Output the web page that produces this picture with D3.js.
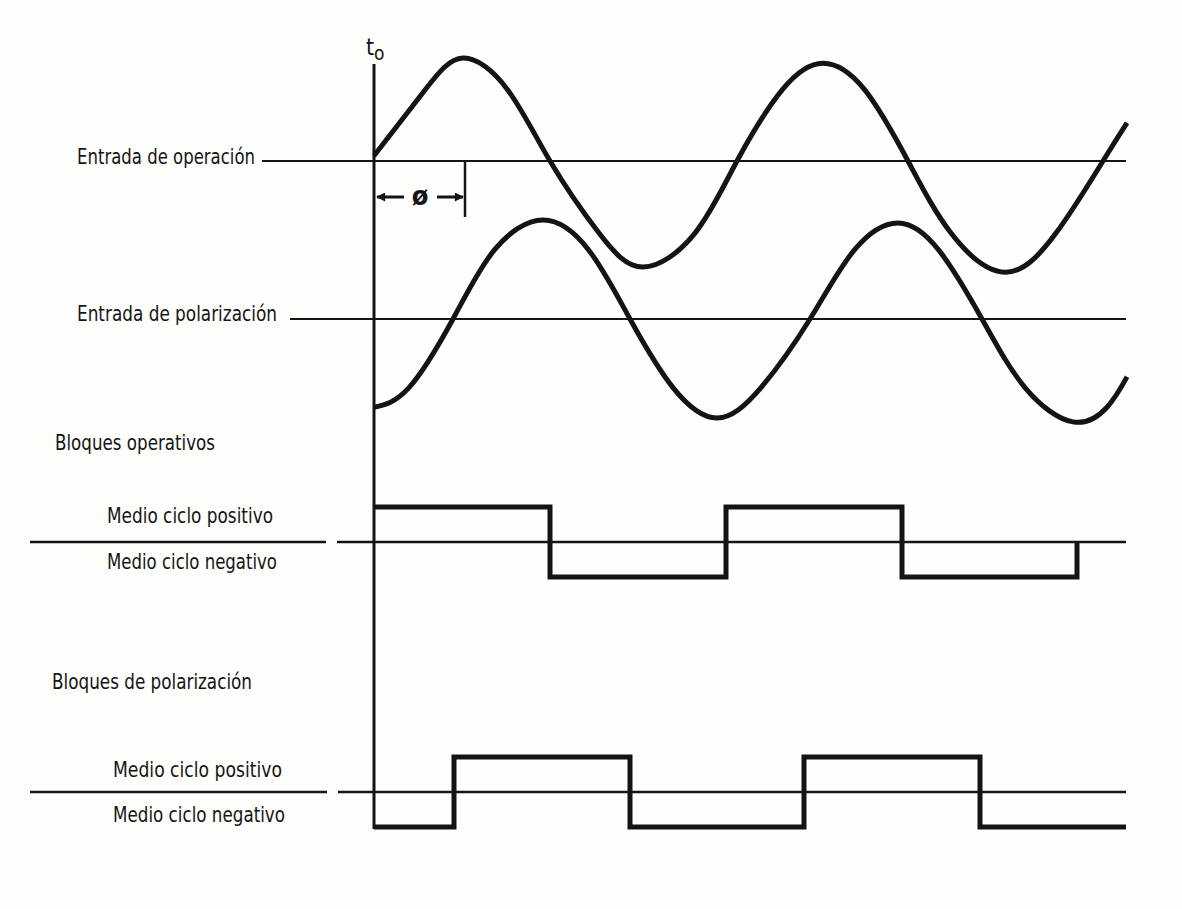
<!DOCTYPE html>
<html>
<head>
<meta charset="utf-8">
<script src="https://cdn.jsdelivr.net/npm/d3@7"></script>
<style>
  html, body { margin: 0; padding: 0; background: #fefefc; }
  svg { display: block; }
  text { font-family: "DejaVu Sans Condensed", "Liberation Sans Narrow", "Noto Sans", sans-serif; fill: #151515; }
</style>
</head>
<body>
<svg id="chart" width="1182" height="909"></svg>
<script>
// ---------- DATA (electrical angle in degrees, amplitude in relative units) ----------
// Entrada de operación (operating input)
const opAngle = [0, 51, 89, 133, 176, 225, 269, 321, 363, 409, 449, 490, 534, 577, 631, 682, 729, 753];
const opValue = [0.05, 0.69, 1.00, 0.70, 0.00, -0.70, -1.03, -0.70, 0.00, 0.70, 0.95, 0.70, 0.00, -0.70, -1.08, -0.70, 0.00, 0.37];

// Entrada de polarización (polarizing input)
const polAngle = [0, 35, 79, 120, 169, 215, 256, 299, 343, 387, 436, 480, 524, 565, 608, 651, 699, 733, 753];
const polValue = [-0.90, -0.70, 0.00, 0.70, 1.01, 0.70, 0.00, -0.70, -1.01, -0.70, 0.00, 0.70, 0.98, 0.70, 0.00, -0.70, -1.05, -0.90, -0.59];

// Bloques operativos: +1 = medio ciclo positivo, -1 = medio ciclo negativo
const blockOpAngle = [0, 176, 352, 528, 703];
const blockOpLevel = [1, -1, 1, -1, 0];

// Bloques de polarización
const blockPolAngle = [0, 80, 256, 430, 606, 752];
const blockPolLevel = [-1, 1, -1, 1, -1, -1];

// Texts
const inputLabels = ["Entrada de operación", "Entrada de polarización"];
const blockTitles = ["Bloques operativos", "Bloques de polarización"];
const halfCycleLabels = ["Medio ciclo positivo", "Medio ciclo negativo"];
const phaseSymbol = "ø";
const originLabel = ["t", "o"];

// ---------- DRAWING ----------
const svg = d3.select("#chart");
const ink = "#141414";

const x = d3.scaleLinear().domain([0, 752]).range([374, 1126]);
const yOp = d3.scaleLinear().domain([-1, 1]).range([264, 58]);
const yPol = d3.scaleLinear().domain([-1, 1]).range([417, 221]);
const yBOp = d3.scaleLinear().domain([-1, 1]).range([577, 507]);
const yBPol = d3.scaleLinear().domain([-1, 1]).range([827, 757]);

const xEnd = x(752);

function hline(x1, x2, y, w) {
  svg.append("line").attr("x1", x1).attr("x2", x2).attr("y1", y).attr("y2", y)
    .attr("stroke", ink).attr("stroke-width", w);
}
hline(262, xEnd, yOp(0), 2);
hline(290, xEnd, yPol(0), 2);
hline(30, 326, yBOp(0), 2.5);
hline(337, xEnd, yBOp(0), 2.5);
hline(30, 327, yBPol(0), 2.5);
hline(338, xEnd, yBPol(0), 2.5);

// vertical t0 axis
svg.append("line").attr("x1", x(0)).attr("x2", x(0)).attr("y1", 64).attr("y2", 829)
  .attr("stroke", ink).attr("stroke-width", 3);

// sine-like inputs
const opData = opAngle.map((a, i) => ({a, v: opValue[i]}));
const polData = polAngle.map((a, i) => ({a, v: polValue[i]}));
const curve = d3.curveNatural;

svg.append("path").datum(opData)
  .attr("d", d3.line().x(d => x(d.a)).y(d => yOp(d.v)).curve(curve))
  .attr("fill", "none").attr("stroke", ink).attr("stroke-width", 5)
  .attr("stroke-linejoin", "round");
svg.append("path").datum(polData)
  .attr("d", d3.line().x(d => x(d.a)).y(d => yPol(d.v)).curve(curve))
  .attr("fill", "none").attr("stroke", ink).attr("stroke-width", 5)
  .attr("stroke-linejoin", "round");

// square waves (blocks)
const bOpData = blockOpAngle.map((a, i) => ({a, v: blockOpLevel[i]}));
const bPolData = blockPolAngle.map((a, i) => ({a, v: blockPolLevel[i]}));
svg.append("path").datum(bOpData)
  .attr("d", d3.line().x(d => x(d.a)).y(d => yBOp(d.v)).curve(d3.curveStepAfter))
  .attr("fill", "none").attr("stroke", ink).attr("stroke-width", 5).attr("stroke-linejoin", "miter");
svg.append("path").datum(bPolData)
  .attr("d", d3.line().x(d => x(d.a)).y(d => yBPol(d.v)).curve(d3.curveStepAfter))
  .attr("fill", "none").attr("stroke", ink).attr("stroke-width", 5).attr("stroke-linejoin", "miter");

// phase angle marker
const phiEnd = 91;
svg.append("line").attr("x1", x(phiEnd)).attr("x2", x(phiEnd)).attr("y1", yOp(0)).attr("y2", 217)
  .attr("stroke", ink).attr("stroke-width", 2.5);
const defs = svg.append("defs");
defs.append("marker").attr("id", "ah").attr("viewBox", "0 0 10 10").attr("refX", 9).attr("refY", 5)
  .attr("markerWidth", 14).attr("markerHeight", 9).attr("markerUnits", "userSpaceOnUse").attr("orient", "auto")
  .append("path").attr("d", "M0,0 L10,5 L0,10 Z").attr("fill", ink);
const arrowY = 197;
svg.append("line").attr("x1", 404).attr("x2", x(0) + 3).attr("y1", arrowY).attr("y2", arrowY)
  .attr("stroke", ink).attr("stroke-width", 3).attr("marker-end", "url(#ah)");
svg.append("line").attr("x1", 437).attr("x2", x(phiEnd) - 2).attr("y1", arrowY).attr("y2", arrowY)
  .attr("stroke", ink).attr("stroke-width", 3).attr("marker-end", "url(#ah)");
svg.append("text").attr("x", 420).attr("y", arrowY + 8).attr("text-anchor", "middle")
  .attr("font-size", 27).attr("font-weight", "bold").text(phaseSymbol);

// t0 label
const t0 = svg.append("text").attr("x", 366).attr("y", 55).attr("font-size", 23);
t0.append("tspan").text(originLabel[0]);
t0.append("tspan").attr("dy", 5).attr("font-size", 19).text(originLabel[1]);

// labels
function label(txt, x0, x1, yb, fs) {
  svg.append("text").attr("x", x0).attr("y", yb).attr("font-size", fs)
    .attr("textLength", x1 - x0).attr("lengthAdjust", "spacingAndGlyphs").text(txt);
}
label(inputLabels[0], 77, 255, 164, 21);
label(inputLabels[1], 77, 277, 321, 21);
label(blockTitles[0], 55, 215, 450, 21);
label(blockTitles[1], 52, 252, 689, 21);
label(halfCycleLabels[0], 107, 273, 523, 21);
label(halfCycleLabels[1], 107, 277, 569, 21);
label(halfCycleLabels[0], 113, 282, 777, 21);
label(halfCycleLabels[1], 113, 285, 822, 21);
</script>
</body>
</html>
